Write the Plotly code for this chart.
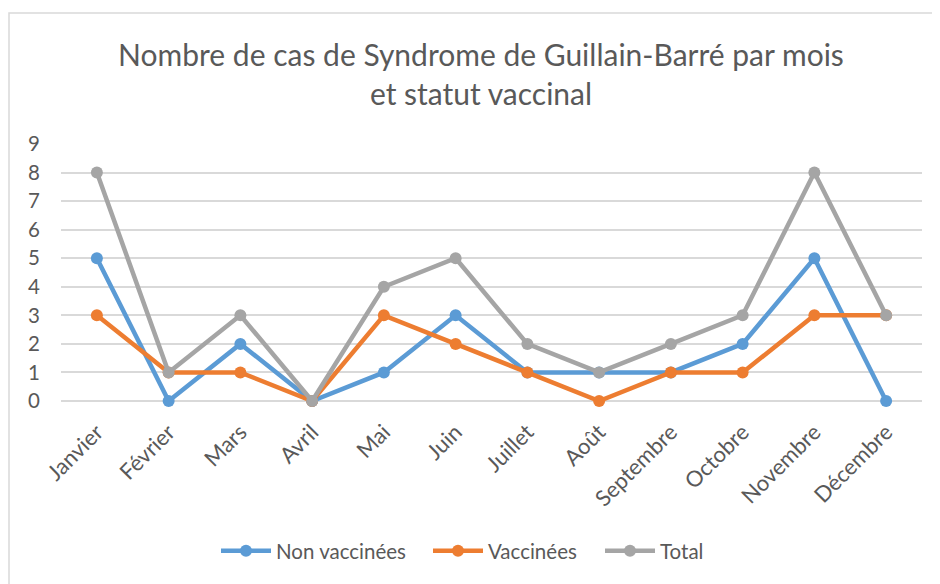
import plotly.graph_objects as go

months = ["Janvier", "Février", "Mars", "Avril", "Mai", "Juin", "Juillet",
          "Août", "Septembre", "Octobre", "Novembre", "Décembre"]
non_vaccinees = [5, 0, 2, 0, 1, 3, 1, 1, 1, 2, 5, 0]
vaccinees = [3, 1, 1, 0, 3, 2, 1, 0, 1, 1, 3, 3]
total = [8, 1, 3, 0, 4, 5, 2, 1, 2, 3, 8, 3]

series = [
    ("Non vaccinées", non_vaccinees, "#5B9BD5", "legend", 224),
    ("Vaccinées", vaccinees, "#ED7D31", "legend2", 436),
    ("Total", total, "#A5A5A5", "legend3", 608),
]

FONT = "Lato"
TXT = "#595959"

fig = go.Figure()
for name, vals, color, leg, _ in series:
    fig.add_trace(go.Scatter(
        x=months, y=vals, name=name, mode="lines+markers",
        line=dict(color=color, width=4.5),
        marker=dict(color=color, size=12),
        cliponaxis=False, legend=leg,
    ))

# page body has 8px offset; figure coordinates = screen - 8
OFF = 8
W, H = 940 - OFF, 584 - OFF
L, R, T, B = 61 - OFF, 18, 144 - OFF, 183
ph = H - T - B
pw = W - L - R

legends = {}
for name, vals, color, leg, sx in series:
    legends[leg] = dict(
        orientation="h", xref="container", x=(sx - OFF - 8) / W, xanchor="left",
        yref="container", y=1 - (551 - OFF) / H, yanchor="middle",
        font=dict(size=20.5, color=TXT), itemwidth=50,
        bgcolor="rgba(0,0,0,0)",
    )

fig.update_layout(
    width=W, height=H,
    margin=dict(l=L, r=R, t=T, b=B, autoexpand=False),
    paper_bgcolor="white", plot_bgcolor="white",
    font=dict(family=FONT, color=TXT, size=20.5),
    title=dict(
        text="Nombre de cas de Syndrome de Guillain-Barré par mois<br>et statut vaccinal",
        xref="paper", x=(481 - 61) / pw, xanchor="center",
        yref="container", y=1 - (66 - OFF) / H, yanchor="middle",
        font=dict(family=FONT, size=30, color=TXT),
    ),
    xaxis=dict(
        type="category", range=[-0.5, 11.5], tickangle=-45, showgrid=False,
        showline=False, ticks="", tickfont=dict(size=22, color=TXT),
        zeroline=False, automargin=False, ticklabelstandoff=13,
    ),
    yaxis=dict(
        range=[0, 9.0001], dtick=1, showgrid=True, gridcolor="#D9D9D9", gridwidth=1.5,
        zeroline=True, zerolinecolor="#D9D9D9", zerolinewidth=1.5,
        showline=False, ticks="", ticklen=0, tickfont=dict(size=20.5, color=TXT),
        automargin=False, ticklabelstandoff=20,
    ),
    showlegend=True,
    **legends,
)

# chart border (light grey)
fig.add_shape(
    type="rect", xref="paper", yref="paper",
    x0=(9 - 61) / pw, x1=1.2,
    y0=-1.0, y1=1 + (144 - 13) / ph,
    line=dict(color="#D9D9D9", width=1.5), fillcolor="rgba(0,0,0,0)", layer="below",
)

fig.write_html("out.html")
